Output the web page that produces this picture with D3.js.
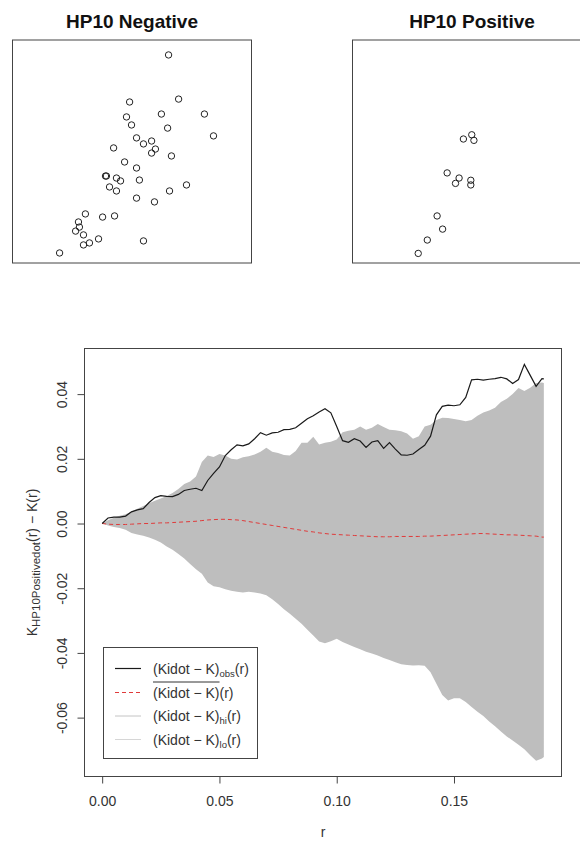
<!DOCTYPE html>
<html>
<head>
<meta charset="utf-8">
<script src="https://cdn.jsdelivr.net/npm/d3@7"></script>
<style>
  body { margin: 0; background: #fff; }
  text { font-family: "Liberation Sans", Arial, sans-serif; }
</style>
</head>
<body>
<div id="main"></div>
<script>
// point patterns, in window units (0-100)
const negX = [65.3, 69.5, 49.0, 80.3, 62.3, 47.7, 49.8, 64.9, 84.1, 51.9, 58.2, 54.8, 59.8, 42.3,
  58.2, 66.5, 46.9, 51.9, 39.3, 38.9, 43.5, 45.2, 53.1, 40.6, 43.5, 72.8, 65.7, 51.9, 59.4, 30.5,
  42.7, 37.7, 27.6, 28.0, 26.4, 29.7, 36.0, 32.2, 29.7, 54.8, 19.7];
const negY = [93.3, 73.5, 72.2, 66.8, 66.8, 65.5, 61.9, 60.5, 57.0, 56.1, 54.7, 53.4, 51.1, 51.6,
  49.3, 48.0, 45.3, 42.6, 39.0, 39.0, 38.1, 36.8, 37.2, 34.1, 32.3, 35.0, 32.3, 29.1, 27.4, 22.0,
  21.1, 20.6, 18.4, 16.1, 14.3, 12.6, 10.8, 9.0, 8.1, 9.9, 4.5];
const posX = [46.4, 49.9, 50.8, 39.6, 44.6, 43.1, 49.5, 49.5, 35.4, 37.7, 31.3, 27.5];
const posY = [55.6, 57.5, 55.0, 40.4, 38.1, 35.7, 37.1, 35.0, 21.1, 15.2, 10.3, 4.3];

// envelope function values
const rVals = [0, 0.0025, 0.005, 0.0075, 0.01, 0.0125, 0.015, 0.0175, 0.02, 0.0225,
  0.025, 0.0275, 0.03, 0.0325, 0.035, 0.0375, 0.04, 0.0425, 0.045, 0.0475,
  0.05, 0.0525, 0.055, 0.0575, 0.06, 0.0625, 0.065, 0.0675, 0.07, 0.0725,
  0.075, 0.0775, 0.08, 0.0825, 0.085, 0.0875, 0.09, 0.0925, 0.095, 0.0975,
  0.1, 0.1025, 0.105, 0.1075, 0.11, 0.1125, 0.115, 0.1175, 0.12, 0.1225,
  0.125, 0.1275, 0.13, 0.1325, 0.135, 0.1375, 0.14, 0.1425, 0.145, 0.1475,
  0.15, 0.1525, 0.155, 0.1575, 0.16, 0.1625, 0.165, 0.1675, 0.17, 0.1725,
  0.175, 0.1775, 0.18, 0.1825, 0.185, 0.1875, 0.1883];
const obsVals = [0.0000, 0.0017, 0.0020, 0.0020, 0.0023, 0.0036, 0.0042, 0.0046, 0.0065, 0.0080,
  0.0086, 0.0084, 0.0083, 0.0090, 0.0102, 0.0106, 0.0109, 0.0102, 0.0133, 0.0155,
  0.0175, 0.0210, 0.0228, 0.0243, 0.0240, 0.0246, 0.0262, 0.0281, 0.0273, 0.0280,
  0.0282, 0.0290, 0.0291, 0.0296, 0.0310, 0.0324, 0.0333, 0.0345, 0.0355, 0.0342,
  0.0300, 0.0256, 0.0251, 0.0262, 0.0255, 0.0235, 0.0252, 0.0256, 0.0232, 0.0250,
  0.0230, 0.0212, 0.0211, 0.0215, 0.0229, 0.0242, 0.0270, 0.0336, 0.0362, 0.0366,
  0.0364, 0.0367, 0.0390, 0.0444, 0.0446, 0.0443, 0.0446, 0.0448, 0.0452, 0.0447,
  0.0433, 0.0445, 0.0492, 0.0458, 0.0424, 0.0448, 0.0447];
const theoVals = [0.0000, -0.0002, -0.0003, -0.0003, -0.0003, -0.0002, -0.0001, 0.0000, 0.0000, 0.0001,
  0.0002, 0.0002, 0.0003, 0.0004, 0.0005, 0.0006, 0.0007, 0.0009, 0.0011, 0.0012,
  0.0013, 0.0013, 0.0012, 0.0011, 0.0009, 0.0006, 0.0003, 0.0000, -0.0003, -0.0006,
  -0.0009, -0.0012, -0.0015, -0.0018, -0.0021, -0.0024, -0.0026, -0.0029, -0.0031, -0.0033,
  -0.0034, -0.0035, -0.0036, -0.0037, -0.0038, -0.0039, -0.0040, -0.0041, -0.0041, -0.0041,
  -0.0040, -0.0040, -0.0040, -0.0040, -0.0040, -0.0039, -0.0039, -0.0038, -0.0037, -0.0036,
  -0.0035, -0.0034, -0.0033, -0.0032, -0.0031, -0.0031, -0.0032, -0.0033, -0.0034, -0.0035,
  -0.0035, -0.0036, -0.0037, -0.0038, -0.0039, -0.0042, -0.0042];
const hiVals = [0.0000, 0.0010, 0.0018, 0.0024, 0.0029, 0.0037, 0.0046, 0.0054, 0.0063, 0.0070,
  0.0077, 0.0085, 0.0094, 0.0107, 0.0122, 0.0130, 0.0145, 0.0190, 0.0210, 0.0206,
  0.0215, 0.0210, 0.0200, 0.0198, 0.0205, 0.0208, 0.0213, 0.0222, 0.0234, 0.0222,
  0.0218, 0.0212, 0.0210, 0.0224, 0.0250, 0.0250, 0.0268, 0.0244, 0.0250, 0.0253,
  0.0260, 0.0282, 0.0287, 0.0290, 0.0300, 0.0290, 0.0296, 0.0308, 0.0298, 0.0290,
  0.0288, 0.0285, 0.0278, 0.0262, 0.0270, 0.0300, 0.0305, 0.0320, 0.0327, 0.0326,
  0.0323, 0.0320, 0.0316, 0.0320, 0.0333, 0.0343, 0.0349, 0.0358, 0.0376, 0.0386,
  0.0400, 0.0419, 0.0410, 0.0420, 0.0434, 0.0436, 0.0434];
const loVals = [0.0000, -0.0006, -0.0011, -0.0014, -0.0019, -0.0029, -0.0034, -0.0038, -0.0043, -0.0050,
  -0.0059, -0.0071, -0.0081, -0.0094, -0.0108, -0.0125, -0.0141, -0.0155, -0.0182, -0.0194,
  -0.0197, -0.0203, -0.0208, -0.0211, -0.0213, -0.0211, -0.0213, -0.0216, -0.0222, -0.0234,
  -0.0249, -0.0265, -0.0279, -0.0294, -0.0310, -0.0328, -0.0346, -0.0365, -0.0370, -0.0364,
  -0.0356, -0.0366, -0.0374, -0.0382, -0.0389, -0.0396, -0.0402, -0.0408, -0.0416, -0.0422,
  -0.0429, -0.0435, -0.0437, -0.0439, -0.0438, -0.0440, -0.0460, -0.0495, -0.0530, -0.0547,
  -0.0540, -0.0540, -0.0552, -0.0567, -0.0582, -0.0595, -0.0612, -0.0627, -0.0643, -0.0658,
  -0.0671, -0.0684, -0.0698, -0.0716, -0.0733, -0.0726, -0.0722];

const xTicks = [0, 0.05, 0.10, 0.15];
const yTicks = [-0.06, -0.04, -0.02, 0, 0.02, 0.04];
const legendSubs = ['obs', '', 'hi', 'lo'];

const svg = d3.select('#main').append('svg').attr('width', 580).attr('height', 841);

// ---- the two point pattern panels ----
function drawPattern(left, title, xs, ys) {
  const px = d3.scaleLinear().domain([0, 100]).range([left, left + 239]);
  const py = d3.scaleLinear().domain([0, 100]).range([263, 40]);
  const g = svg.append('g');
  g.append('rect').attr('x', left).attr('y', 40).attr('width', 239).attr('height', 223)
    .attr('fill', 'none').attr('stroke', '#444').attr('stroke-width', 1);
  g.selectAll('circle').data(xs).join('circle')
    .attr('cx', (d) => px(d)).attr('cy', (d, i) => py(ys[i])).attr('r', 3.2)
    .attr('fill', 'none').attr('stroke', '#222').attr('stroke-width', 1);
  g.append('text').attr('x', left + 119.5).attr('y', 27.5).attr('text-anchor', 'middle')
    .attr('font-size', 19).attr('font-weight', 'bold').attr('fill', '#111').text(title);
}
drawPattern(12.5, 'HP10 Negative', negX, negY);
drawPattern(352.5, 'HP10 Positive', posX, posY);

// ---- envelope plot ----
const box = {left: 84.5, right: 561.5, top: 348.5, bottom: 776.5};
const pad = (ext) => [ext[0] - 0.04 * (ext[1] - ext[0]), ext[1] + 0.04 * (ext[1] - ext[0])];

const x = d3.scaleLinear().domain(pad(d3.extent(rVals))).range([box.left, box.right]);
const y = d3.scaleLinear()
  .domain(pad([d3.min(loVals), d3.max(obsVals.concat(hiVals))]))
  .range([box.bottom, box.top]);

const area = d3.area()
  .x((d, i) => x(rVals[i]))
  .y0((d, i) => y(loVals[i]))
  .y1((d, i) => y(hiVals[i]));
const line = (vals) => d3.line().x((d, i) => x(rVals[i])).y((d) => y(d))(vals);

svg.append('path').attr('d', area(rVals)).attr('fill', '#bebebe');
svg.append('path').attr('d', line(theoVals)).attr('fill', 'none')
  .attr('stroke', '#e03a3a').attr('stroke-width', 1).attr('stroke-dasharray', '4,3');
svg.append('path').attr('d', line(obsVals)).attr('fill', 'none')
  .attr('stroke', '#1a1a1a').attr('stroke-width', 1.2);

svg.append('rect').attr('x', box.left).attr('y', box.top)
  .attr('width', box.right - box.left).attr('height', box.bottom - box.top)
  .attr('fill', 'none').attr('stroke', '#444').attr('stroke-width', 1);

const xAxis = d3.axisBottom(x).tickValues(xTicks).tickSize(7).tickPadding(12.5)
  .tickFormat((d) => d.toFixed(2));
const gx = svg.append('g').attr('transform', `translate(0, ${box.bottom})`).call(xAxis);
gx.select('.domain').remove();
gx.selectAll('line').attr('stroke', '#444');
gx.selectAll('text').attr('font-size', 14).attr('fill', '#333')
  .attr('font-family', '"Liberation Sans", Arial, sans-serif');

const yAxis = d3.axisLeft(y).tickValues(yTicks).tickSize(7).tickFormat((d) => d.toFixed(2));
const gy = svg.append('g').attr('transform', `translate(${box.left}, 0)`).call(yAxis);
gy.select('.domain').remove();
gy.selectAll('line').attr('stroke', '#444');
gy.selectAll('text').attr('x', null).attr('dy', null).attr('text-anchor', 'middle')
  .attr('transform', 'translate(-17.5, 0) rotate(-90)')
  .attr('font-size', 14).attr('fill', '#333')
  .attr('font-family', '"Liberation Sans", Arial, sans-serif');

svg.append('text').attr('x', (box.left + box.right) / 2).attr('y', 837)
  .attr('text-anchor', 'middle').attr('font-size', 14).attr('fill', '#333').text('r');

const yTitle = svg.append('text')
  .attr('transform', `translate(37, ${(box.top + box.bottom) / 2}) rotate(-90)`)
  .attr('text-anchor', 'middle').attr('font-size', 14).attr('fill', '#333');
yTitle.append('tspan').text('K');
yTitle.append('tspan').attr('font-size', 11.5).attr('dy', 3).text('HP10Positivedot');
yTitle.append('tspan').attr('dy', -3).text('(r) \u2212 K(r)');

// ---- legend ----
const leg = svg.append('g');
leg.append('rect').attr('x', 103.5).attr('y', 647.5).attr('width', 154).attr('height', 111)
  .attr('fill', '#fff').attr('stroke', '#444').attr('stroke-width', 1);
const rowY = [668.5, 692.5, 716, 739.5];
const legStroke = ['#1a1a1a', '#e03a3a', '#c4c4c4', '#d6d6d6'];
legendSubs.forEach((sub, i) => {
  leg.append('line').attr('x1', 115).attr('x2', 141).attr('y1', rowY[i]).attr('y2', rowY[i])
    .attr('stroke', legStroke[i]).attr('stroke-width', i === 0 ? 1.2 : 1)
    .attr('stroke-dasharray', i === 1 ? '4,3' : null);
  const t = leg.append('text').attr('x', 153).attr('y', rowY[i] + 5)
    .attr('font-size', 14).attr('fill', '#333');
  const head = t.append('tspan').text('(Kidot \u2212 K)');
  if (sub) {
    t.append('tspan').attr('font-size', 9.5).attr('dy', 3).text(sub);
    t.append('tspan').attr('dy', -3).text('(r)');
  } else {
    t.append('tspan').text('(r)');
    const w = head.node().getComputedTextLength();
    leg.append('line').attr('x1', 153).attr('x2', 153 + w)
      .attr('y1', rowY[i] - 10.5).attr('y2', rowY[i] - 10.5)
      .attr('stroke', '#333').attr('stroke-width', 1);
  }
});
</script>
</body>
</html>
